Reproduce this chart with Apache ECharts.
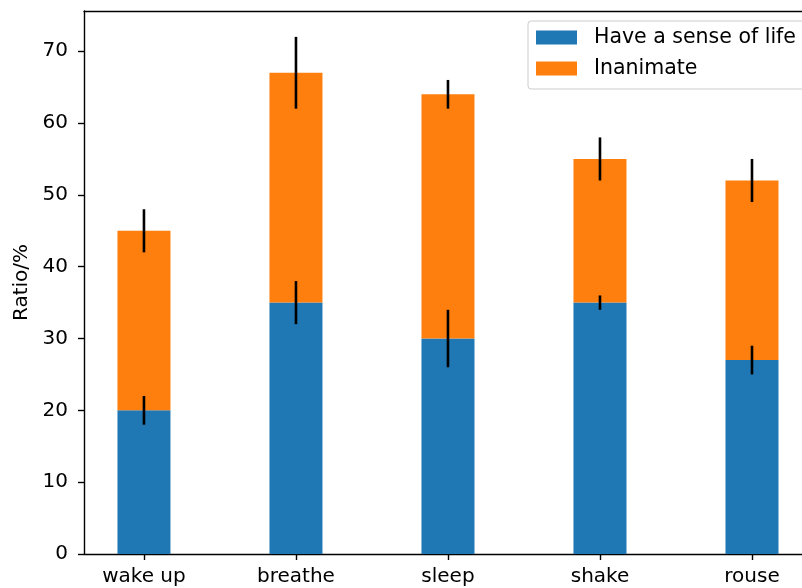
<!DOCTYPE html>
<html>
<head>
<meta charset="utf-8">
<script src="https://cdn.jsdelivr.net/npm/echarts@6/dist/echarts.min.js"></script>
<style>
  html, body { margin: 0; padding: 0; background: #fff; }
  #chart { width: 802px; height: 588px; }
</style>
</head>
<body>
<div id="chart"></div>
<script>
// Stacked bars with standard-deviation whiskers
const categories = ['wake up', 'breathe', 'sleep', 'shake', 'rouse'];
const lifeMeans = [20, 35, 30, 35, 27];
const inanimateMeans = [25, 32, 34, 20, 25];
const lifeStd = [2, 3, 4, 1, 2];
const inanimateStd = [3, 5, 2, 3, 3];
const yTicks = [0, 10, 20, 30, 40, 50, 60, 70];

const FONT = 'DejaVu Sans';
const FS = 20;
const positions = categories.map((_, i) => i);

// value first so that the stack runs along the y dimension
const lifeData = positions.map((x, i) => [lifeMeans[i], x]);
const inanimateData = positions.map((x, i) => [inanimateMeans[i], x]);
// whisker centres sit at the top of each stacked segment
const lifeErr = positions.map((x, i) => [x, lifeMeans[i], lifeStd[i]]);
const inanimateErr = positions.map((x, i) => [x, lifeMeans[i] + inanimateMeans[i], inanimateStd[i]]);

function whisker(params, api) {
  const x = api.value(0), c = api.value(1), e = api.value(2);
  const p1 = api.coord([x, c - e]);
  const p2 = api.coord([x, c + e]);
  return {
    type: 'line',
    shape: { x1: p1[0], y1: p1[1], x2: p2[0], y2: p2[1] },
    style: { stroke: '#000', lineWidth: 2.6 }
  };
}

const X_MIN = -0.3945, X_MAX = 4.329;
const spine = { color: '#000', width: 1.4 };

const chart = echarts.init(document.getElementById('chart'), null, { renderer: 'canvas' });
chart.setOption({
  animation: false,
  backgroundColor: '#fff',
  textStyle: { fontFamily: FONT },
  grid: { left: 84, top: 11, right: 0, bottom: 34 },
  legend: {
    orient: 'vertical',
    left: 528, top: 21,
    padding: [6, 16, 10, 8],
    itemWidth: 41, itemHeight: 14, itemGap: 10,
    icon: 'rect',
    backgroundColor: 'rgba(255,255,255,0.8)',
    borderColor: '#cccccc', borderWidth: 1, borderRadius: 3,
    textStyle: { fontFamily: FONT, fontSize: 20.5, color: '#000', lineHeight: 20, padding: [0, 0, 0, 12] },
    data: ['Have a sense of life', 'Inanimate']
  },
  xAxis: [
    {
      type: 'value',
      min: X_MIN, max: X_MAX,
      splitLine: { show: false },
      axisLine: { show: true, onZero: false, lineStyle: spine },
      axisTick: { show: true, length: 6, customValues: positions, lineStyle: spine },
      axisLabel: {
        customValues: positions,
        margin: 13,
        fontFamily: FONT, fontSize: FS, color: '#000',
        formatter: v => categories[Math.round(v)]
      }
    },
    {
      // top spine of the frame
      type: 'value', position: 'top',
      min: X_MIN, max: X_MAX,
      splitLine: { show: false },
      axisLine: { show: true, onZero: false, lineStyle: spine },
      axisTick: { show: false },
      axisLabel: { show: false }
    }
  ],
  yAxis: {
    type: 'value',
    min: 0, max: 75.6,
    name: 'Ratio/%',
    nameLocation: 'middle',
    nameRotate: 90,
    nameGap: 47,
    nameTextStyle: { fontFamily: FONT, fontSize: FS, color: '#000' },
    splitLine: { show: false },
    axisLine: { show: true, onZero: false, lineStyle: spine },
    axisTick: { show: true, length: 6, customValues: yTicks, lineStyle: spine },
    axisLabel: { customValues: yTicks, margin: 16, fontFamily: FONT, fontSize: FS, color: '#000' }
  },
  series: [
    {
      name: 'Have a sense of life', type: 'bar', stack: 'total',
      barWidth: 53, itemStyle: { color: '#1f77b4' },
      encode: { x: 1, y: 0 },
      data: lifeData
    },
    {
      name: 'Inanimate', type: 'bar', stack: 'total',
      barWidth: 53, itemStyle: { color: '#ff7f0e' },
      encode: { x: 1, y: 0 },
      data: inanimateData
    },
    {
      type: 'custom', renderItem: whisker, z: 10,
      encode: { x: 0, y: 1 }, data: lifeErr, silent: true
    },
    {
      type: 'custom', renderItem: whisker, z: 10,
      encode: { x: 0, y: 1 }, data: inanimateErr, silent: true
    }
  ]
});
</script>
</body>
</html>
